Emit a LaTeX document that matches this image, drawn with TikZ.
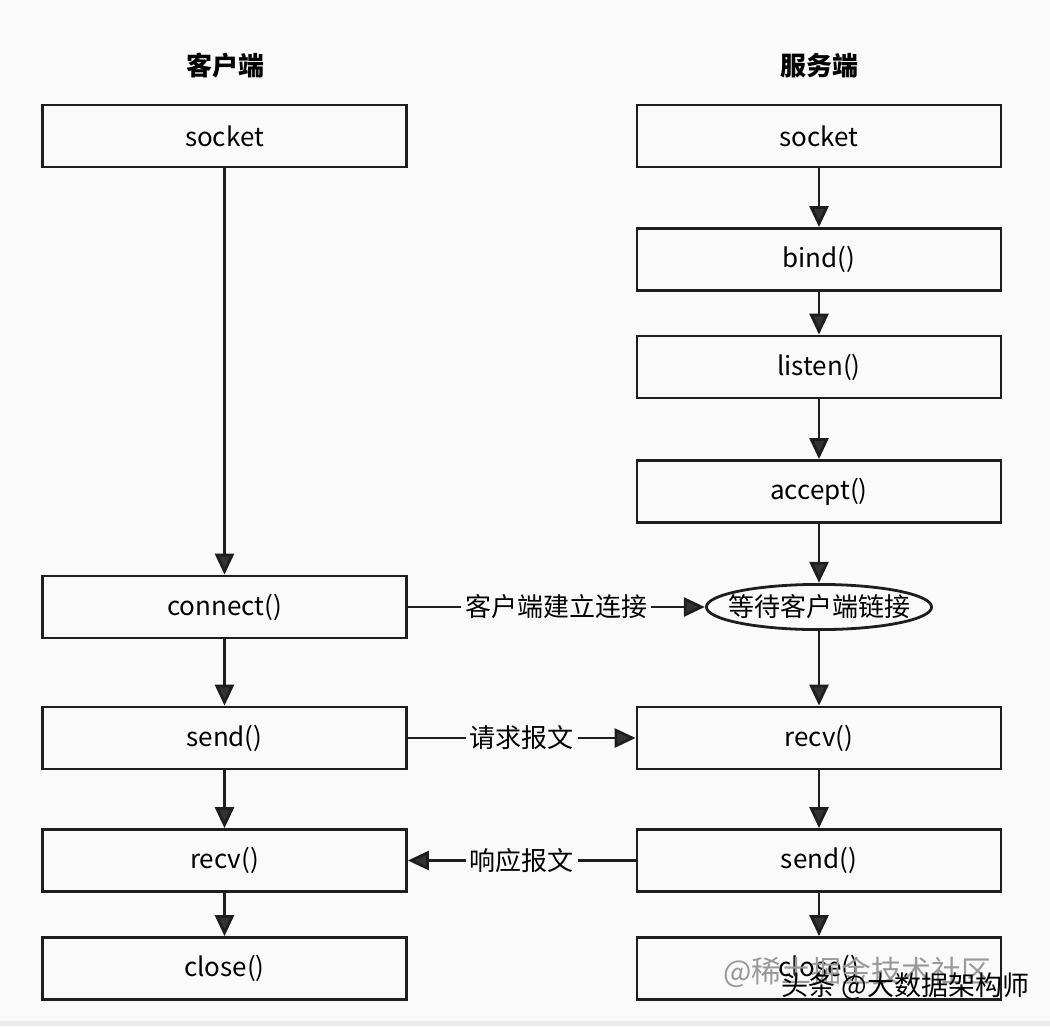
\documentclass[tikz,border=0pt]{standalone}
\usepackage{fontspec}
\setmainfont{Noto Sans CJK SC}
\usetikzlibrary{arrows.meta,shapes.geometric}
\definecolor{bg}{HTML}{FAFAFA}
\definecolor{ln}{HTML}{1E1E1E}
\definecolor{ah}{HTML}{333333}
\begin{document}
\begin{tikzpicture}[x=1pt,y=-1pt,
 box/.style={draw=ln,line width=2.8pt,minimum width=364pt,minimum height=62pt,inner sep=0pt,font=\fontsize{26}{28}\selectfont},
 arr/.style={line width=2.8pt,draw=ln,-{Triangle[length=21pt,width=19pt,fill=ah]}},
 lbl/.style={fill=bg,inner sep=4pt,font=\fontsize{26}{28}\selectfont},
 ttl/.style={font=\fontsize{26}{28}\selectfont\bfseries}]
\useasboundingbox (0,0) rectangle (1050,1026);
\fill[bg] (0,0) rectangle (1050,1026);
\fill[black!8] (0,1021) rectangle (1050,1026);
\node[ttl] (tc) at (225,66) {客户端};
\node[ttl] (ts) at (819,66) {服务端};
\node[box] (cs) at (224.5,136) {socket};
\node[box] (ss) at (819,136) {socket};
\node[box] (bind) at (819,259.5) {bind()};
\node[box] (listen) at (819,367) {listen()};
\node[box] (accept) at (819,491.5) {accept()};
\node[box] (conn) at (224.5,607) {connect()};
\node[minimum width=228pt,minimum height=48pt,inner sep=0pt,font=\fontsize{26}{28}\selectfont] (wait) at (819,607) {等待客户端链接};
\draw[draw=ln,line width=2.8pt] (wait.center) ellipse [x radius=112.6pt, y radius=22.6pt];
\node[box] (csend) at (224.5,738) {send()};
\node[box] (srecv) at (819,738) {recv()};
\node[box] (crecv) at (224.5,860.5) {recv()};
\node[box] (ssend) at (819,860.5) {send()};
\node[box] (cclose) at (224.5,968.5) {close()};
\node[box] (sclose) at (819,968.5) {close()};
\draw[arr] (cs) -- (conn);
\draw[arr] (ss) -- (bind);
\draw[arr] (bind) -- (listen);
\draw[arr] (listen) -- (accept);
\draw[arr] (accept) -- (wait);
\draw[arr] (wait) -- (srecv);
\draw[arr] (srecv) -- (ssend);
\draw[arr] (ssend) -- (sclose);
\draw[arr] (conn) -- (csend);
\draw[arr] (csend) -- (crecv);
\draw[arr] (crecv) -- (cclose);
\draw[arr] (conn) -- node[lbl] {客户端建立连接} (wait);
\draw[arr] (csend) -- node[lbl] {请求报文} (srecv);
\draw[arr] (ssend) -- node[lbl] {响应报文} (crecv);
\node[anchor=west,text=black!40,font=\fontsize{30}{32}\selectfont] (wm1) at (720,972) {@稀土掘金技术社区};
\node[anchor=west,text=black,font=\fontsize{27}{30}\selectfont] (wm2) at (778,986) {头条 @大数据架构师};
\end{tikzpicture}
\end{document}
